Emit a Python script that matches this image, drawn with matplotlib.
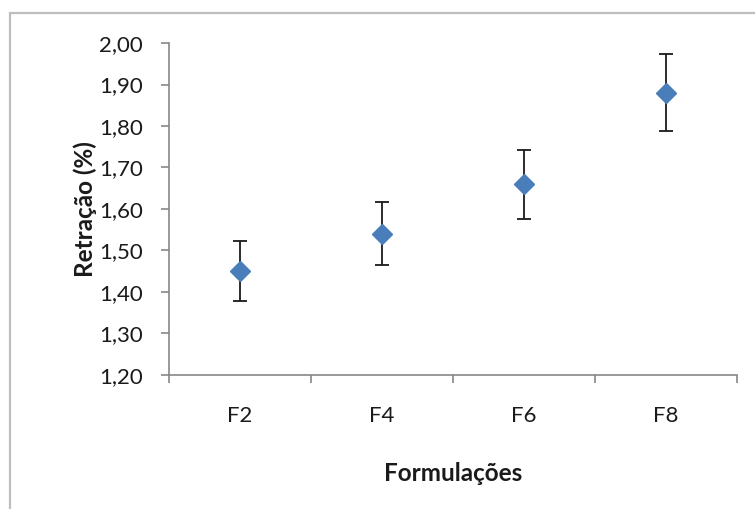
import matplotlib as mpl
mpl.use('Agg')
import matplotlib.pyplot as plt
from matplotlib.patches import Rectangle
from matplotlib.ticker import FuncFormatter

# data
formulacoes = ['F2', 'F4', 'F6', 'F8']
retracao = [1.45, 1.54, 1.66, 1.88]
erro = [0.072, 0.076, 0.083, 0.093]

plt.rcParams['font.family'] = ['Lato', 'DejaVu Sans']

fig = plt.figure(figsize=(7.55, 5.09), dpi=100)
ax = fig.add_axes([0.2238, 0.2633, 0.7524, 0.6522])

# outer chart border (only top/left visible in the reference)
fig.patches.append(Rectangle((10 / 755, -0.1), 1.2, 1 - 13 / 509 + 0.1,
                             transform=fig.transFigure, fill=False,
                             edgecolor='#BEBEBE', linewidth=1.6))

x = range(1, len(formulacoes) + 1)
ax.errorbar(x, retracao, yerr=erro, fmt='none', ecolor='#1a1a1a',
            elinewidth=1.3, capsize=4.8, capthick=1.3, zorder=2)
ax.plot(x, retracao, linestyle='none', marker='D', markersize=10.5,
        color='#4A7EBB', markeredgecolor='#4A7EBB', zorder=3)

ax.set_xlim(0.5, 4.5)
ax.set_ylim(1.20, 2.00)
ax.set_yticks([1.2 + 0.1 * i for i in range(9)])
ax.yaxis.set_major_formatter(FuncFormatter(lambda v, p: '{:.2f}'.format(v).replace('.', ',')))
ax.set_xticks(list(x))
ax.set_xticklabels(formulacoes)
ax.set_xticks([0.5, 1.5, 2.5, 3.5, 4.5], minor=True)

for s in ['top', 'right']:
    ax.spines[s].set_visible(False)
for s in ['left', 'bottom']:
    ax.spines[s].set_color('#878787')
    ax.spines[s].set_linewidth(1.2)

ax.tick_params(axis='y', direction='out', length=6, width=1.2, color='#878787',
               labelsize=16, labelcolor='#1a1a1a', pad=13)
ax.tick_params(axis='x', which='major', length=0, labelsize=16,
               labelcolor='#1a1a1a', pad=22)
ax.tick_params(axis='x', which='minor', direction='out', length=6, width=1.2,
               color='#878787')

ax.set_ylabel('Retração (%)', fontsize=17.5, fontweight='bold', color='#1a1a1a')
ax.yaxis.set_label_coords(-0.127, 0.5)
ax.set_xlabel('Formulações', fontsize=17.5, fontweight='bold', color='#1a1a1a')
ax.xaxis.set_label_coords(0.5, -0.262)

fig.savefig('out.png', dpi=100)
